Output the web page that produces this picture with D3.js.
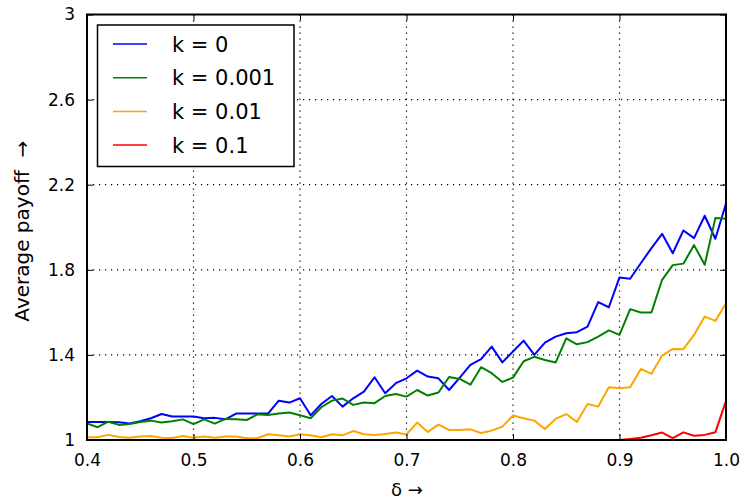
<!DOCTYPE html>
<html><head><meta charset="utf-8">
<script src="https://cdn.jsdelivr.net/npm/d3@7"></script>
<style>body{margin:0;background:#fff}svg{display:block}text{font-family:"DejaVu Sans",sans-serif}</style>
</head><body><svg id="c" width="742" height="500"></svg>
<script>
const deltas = d3.range(40, 101).map(d => d / 100);
const k0 = [1.085,1.085,1.085,1.083,1.078,1.088,1.102,1.122,1.110,1.110,
1.110,1.102,1.104,1.097,1.124,1.124,1.124,1.124,1.185,1.176,
1.196,1.116,1.169,1.207,1.157,1.196,1.227,1.295,1.220,1.267,
1.290,1.326,1.298,1.290,1.235,1.293,1.353,1.380,1.439,1.365,
1.416,1.467,1.400,1.458,1.486,1.502,1.507,1.533,1.648,1.624,
1.764,1.758,1.831,1.902,1.969,1.878,1.985,1.949,2.054,1.946,2.111];
const k001 = [1.078,1.060,1.086,1.071,1.075,1.085,1.091,1.082,1.088,1.097,
1.075,1.097,1.077,1.099,1.097,1.094,1.121,1.118,1.125,1.129,
1.116,1.102,1.154,1.185,1.195,1.165,1.176,1.173,1.207,1.216,
1.204,1.235,1.209,1.223,1.296,1.287,1.260,1.342,1.314,1.273,
1.293,1.370,1.391,1.376,1.364,1.478,1.450,1.460,1.486,1.515,
1.494,1.615,1.599,1.599,1.753,1.822,1.829,1.916,1.824,2.043,2.040];
const k01 = [1.013,1.013,1.024,1.014,1.011,1.016,1.019,1.011,1.009,1.019,
1.011,1.017,1.011,1.016,1.016,1.008,1.008,1.027,1.022,1.016,
1.027,1.022,1.013,1.027,1.022,1.042,1.027,1.024,1.028,1.035,
1.026,1.082,1.038,1.072,1.047,1.047,1.050,1.033,1.044,1.063,
1.115,1.102,1.091,1.052,1.099,1.122,1.085,1.169,1.157,1.248,
1.243,1.248,1.334,1.311,1.397,1.428,1.427,1.494,1.580,1.560,1.643];
const k1 = [1,1,1,1,1,1,1,1,1,1,
1,1,1,1,1,1,1,1,1,1,
1,1,1,1,1,1,1,1,1,1,
1,1,1,1,1,1,1,1,1,1,
1,1,1,1,1,1,1,1,1,1,
1,1.005,1.011,1.022,1.035,1.009,1.036,1.020,1.024,1.036,1.184];
const seriesNames = ["k = 0","k = 0.001","k = 0.01","k = 0.1"];
const seriesColors = ["#0000ff","#008000","#ffa500","#ff0000"];
const xTicks = [0.4,0.5,0.6,0.7,0.8,0.9,1.0];
const xTickLabels = ["0.4","0.5","0.6","0.7","0.8","0.9","1.0"];
const yTicks = [1,1.4,1.8,2.2,2.6,3];
const yTickLabels = ["1","1.4","1.8","2.2","2.6","3"];

const L=87,R=726,T=14.5,B=440;
const svg=d3.select("#c");
const x=d3.scaleLinear().domain([0.4,1.0]).range([L,R]);
const y=d3.scaleLinear().domain([1,3]).range([B,T]);

svg.append("defs").append("clipPath").attr("id","clip").append("rect")
 .attr("x",L).attr("y",T).attr("width",R-L).attr("height",B-T);

// grid
const grid=svg.append("g").attr("stroke","#000").attr("stroke-width",1.2).attr("stroke-dasharray","1.2,4.8");
xTicks.slice(1,-1).forEach(t=>grid.append("line").attr("x1",x(t)).attr("x2",x(t)).attr("y1",T).attr("y2",B));
yTicks.slice(1,-1).forEach(t=>grid.append("line").attr("x1",L).attr("x2",R).attr("y1",y(t)).attr("y2",y(t)));

// lines
const all=[k0,k001,k01,k1];
const line=d3.line().x((d,i)=>x(deltas[i])).y(d=>y(d));
const lg=svg.append("g").attr("clip-path","url(#clip)");
all.forEach((s,i)=>lg.append("path").attr("d",line(s)).attr("fill","none")
 .attr("stroke",seriesColors[i]).attr("stroke-width",2).attr("stroke-linejoin","round"));

// axes with inward ticks
const ax=svg.append("g");
ax.append("g").attr("transform",`translate(0,${B})`).call(d3.axisBottom(x).tickValues(xTicks).tickSize(-6).tickPadding(14).tickFormat((d,i)=>xTickLabels[i]));
ax.append("g").attr("transform",`translate(0,${T})`).call(d3.axisTop(x).tickValues(xTicks).tickSize(-6).tickFormat(""));
ax.append("g").attr("transform",`translate(${L},0)`).call(d3.axisLeft(y).tickValues(yTicks).tickSize(-6).tickPadding(12).tickFormat((d,i)=>yTickLabels[i]));
ax.append("g").attr("transform",`translate(${R},0)`).call(d3.axisRight(y).tickValues(yTicks).tickSize(-6).tickFormat(""));
ax.selectAll(".domain").remove();
ax.selectAll(".tick line").attr("stroke","#000").attr("stroke-width",1);
ax.selectAll(".tick text").attr("font-size",17).attr("font-family","DejaVu Sans").attr("fill","#000");
svg.append("rect").attr("x",L).attr("y",T).attr("width",R-L).attr("height",B-T)
 .attr("fill","none").attr("stroke","#000").attr("stroke-width",2);

// axis labels
svg.append("text").attr("x",407).attr("y",496).attr("text-anchor","middle").attr("font-size",18).text("δ →");
svg.append("text").attr("transform",`translate(29,${(T+B)/2+4}) rotate(-90)`).attr("text-anchor","middle")
 .attr("font-size",20).attr("xml:space","preserve").style("white-space","pre").text("Average payoff  →");

// legend
const leg=svg.append("g");
leg.append("rect").attr("x",97.5).attr("y",25).attr("width",196.5).attr("height",141.5)
 .attr("fill","#fff").attr("stroke","#000").attr("stroke-width",1.5);
seriesNames.forEach((n,i)=>{
  const yy=44+i*33.7;
  leg.append("line").attr("x1",113).attr("x2",147).attr("y1",yy).attr("y2",yy)
   .attr("stroke",seriesColors[i]).attr("stroke-width",1.5);
  leg.append("text").attr("x",172).attr("y",yy+7.5).attr("font-size",21).text(n);
});
</script></body></html>
